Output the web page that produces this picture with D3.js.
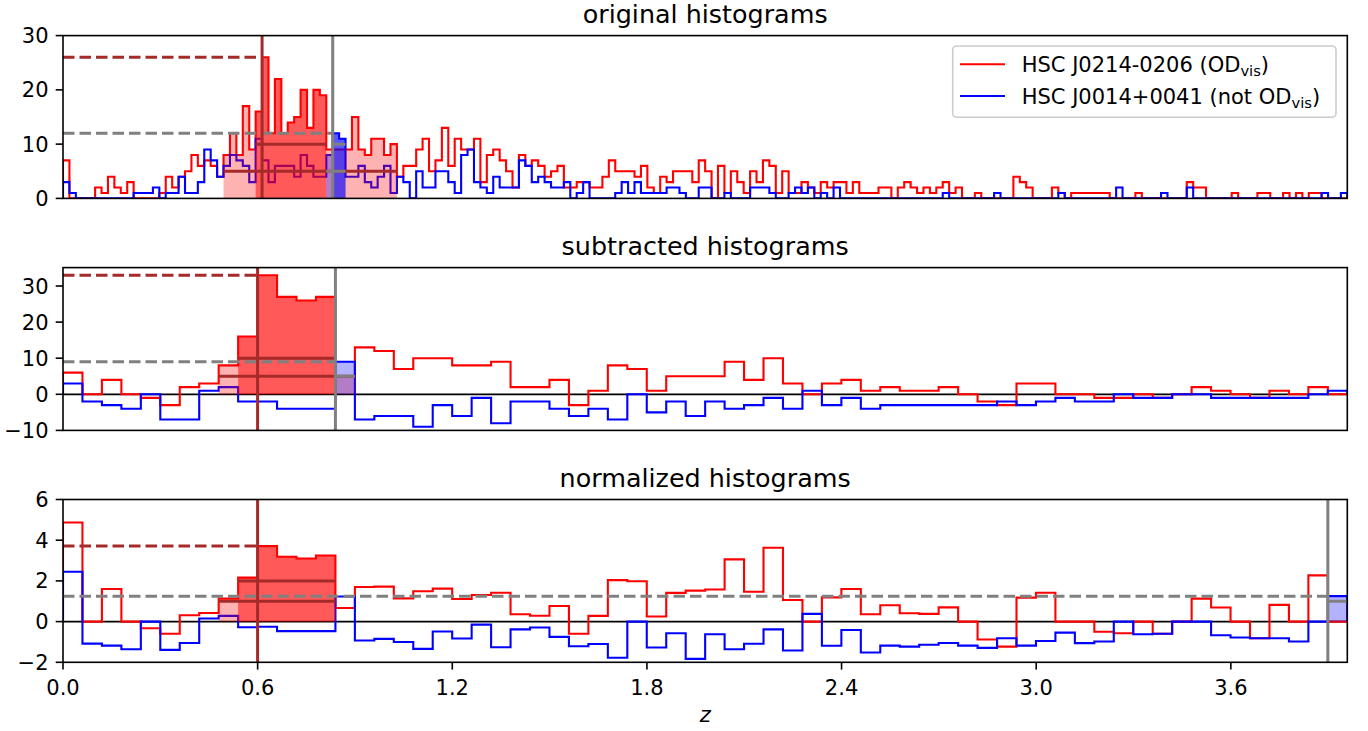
<!DOCTYPE html>
<html><head><meta charset="utf-8">
<script src="https://cdn.jsdelivr.net/npm/d3@7"></script>
<style>body{margin:0;background:#fff}</style>
</head><body>
<svg id="chart" width="1368" height="731"></svg>
<script>
// ---------- data ----------
const topRed = [7,0,0,0,0,2,1,4,2,1, 3,0,0,0,0,1,4,2,4,5, 8,6,7,6,4,8,12,8,17,9,
 16,26,12,22,12,14,15,20,13,20, 19,9,9,9,9,15,9,8,11,11, 8,10,4,6,6,9,11,5,7,13,
 6,11,9,9,11,3,8,9,7,5, 2,8,6,7,6,4,5,6,2,2, 3,3,2,2,4,7,5,5,5,4,
 6,2,1,4,3,5,5,5,3,7, 5,0,6,1,5,3,1,5,3,7, 6,1,5,1,1,3,2,1,3,2,
 3,3,1,3,1,1,1,2,2,0, 2,3,2,1,2,1,2,3,1,2, 0,0,1,0,0,0,0,0,4,3,
 2,0,0,0,2,1,0,1,1,1, 1,1,1,0,0,0,0,1,0,0, 0,0,0,0,0,3,2,2,0,0,
 0,0,1,0,0,0,1,1,0,0, 1,0,1,0,1,1,0,0,0,0];
const topBlue = [3,1,0,0,0,0,0,0,0,0, 0,1,1,1,2,0,1,1,4,1, 1,3,9,7,4,6,8,7,6,3,
 11,7,3,6,6,6,4,8,6,4, 4,8,12,11,4,4,6,3,2,4, 6,1,4,3,0,5,2,2,5,5,
 3,1,8,9,3,2,1,4,2,2, 2,7,6,3,4,3,2,2,3,0, 1,3,0,0,0,0,1,3,1,3,
 1,1,1,1,2,2,1,0,0,2, 2,0,0,1,0,0,0,2,2,2, 1,0,0,1,2,1,2,0,1,0,
 2,0,0,0,0,0,0,0,0,0, 0,0,0,0,0,0,0,1,0,0, 0,0,0,0,0,1,0,0,0,0,
 0,0,0,0,0,1,0,0,0,0, 0,0,0,0,2,0,0,0,0,0, 0,1,0,0,0,2,0,0,0,0,
 0,0,0,0,0,0,0,0,0,0, 0,0,0,0,0,0,1,0,0,1];
const subRed = [6,0,4,0,-1,-3,2,3,8,16, 33,27,26,27,5,13,12,7,10,10,
 8,8,9,2,2,4,-3,1,8,7, 1,5,5,5,9,4,10,3,0,3, 4,1,2,1,1,2,0,-2,-3,3,
 3,0,0,-1,-1,0,-1,0,2,1, 0,-1,1,0,2,0];
const subBlue = [3,-2,-3,-4,0,-7,-7,1,2,-2, -2,-4,-4,-4,9,-7,-6,-6,-9,-3,
 -6,-1,-8,-2,-2,-4,-6,-4,-7,0, -5,-2,-6,-2,-4,-3,-1,-4,1,-3, -1,-4,-3,-3,-3,-3,-3,-3,-2,-3,
 -2,-1,-2,-2,0,-1,-1,0,0,-1, -1,-1,-1,-1,0,1];
const normRed = [4.87,0,1.6,0,-0.33,-0.6,0.31,0.42,1.13,2.16,
 3.71,3.19,3.10,3.25,0.67,1.70,1.72,1.14,1.49,1.62,
 1.11,1.31,1.42,0.36,0.29,0.77,-0.6,0.28,2.04,1.98,
 0.25,1.41,1.52,1.58,3.06,1.47,3.63,1.06,0,1.19,
 1.6,0.36,0.8,0.41,0.38,0.7,0,-0.88,-1.23,1.18,
 1.42,0,0,-0.5,-0.57,0,-0.6,0,1.13,0.69,
 0,-0.82,0.82,0,2.27,0];
const normBlue = [2.45,-1.08,-1.18,-1.36,0,-1.39,-1.05,0.15,0.28,-0.28,
 -0.25,-0.47,-0.47,-0.47,1.23,-0.93,-0.85,-1.0,-1.34,-0.49,
 -0.83,-0.15,-1.26,-0.38,-0.29,-0.75,-1.21,-1.1,-1.78,0,
 -1.27,-0.57,-1.83,-0.62,-1.36,-1.09,-0.38,-1.42,0.38,-1.19,
 -0.41,-1.52,-1.18,-1.23,-1.14,-1.05,-1.18,-1.29,-0.82,-1.18,
 -0.95,-0.54,-1.06,-0.98,0,-0.62,-0.6,0,0,-0.67,
 -0.78,-0.82,-0.82,-0.98,0,1.25];
const zMax = 3.959;
const xTicks = [0, 0.6, 1.2, 1.8, 2.4, 3.0, 3.6];
const xTickLabels = ["0.0","0.6","1.2","1.8","2.4","3.0","3.6"];
const yTicksTop = [0,10,20,30];
const yTicksSub = [-10,0,10,20,30];
const yTicksNorm = [-2,0,2,4,6];
const panelTitles = ["original histograms","subtracted histograms","normalized histograms"];
const legendNames = [["HSC J0214-0206 (OD","vis",")"],["HSC J0014+0041 (not OD","vis",")"]];

// ---------- layout / styles ----------
const FONT = "DejaVu Sans";
const RED = "#ff0000", BLUE = "#0000ff", BROWN = "#a52a2a", GRAY = "#808080";
const svg = d3.select("#chart");
const x = d3.scaleLinear().domain([0, zMax]).range([63, 1347.3]);
const panelH = 162.8;

const panels = [
  {top:35.6, title:panelTitles[0], red:topRed, blue:topBlue, ylim:[0,30], ticks:yTicksTop, zero:false,
   redPeak:31, bluePeak:42, redLight:[25,51], redDark:[30,40], blueLight:[41,43], blueDark:[42,43],
   redLevels:[[10,30,40],[5,25,51]], blueLevels:[[10,42,43],[5,41,43]]},
  {top:267.6, title:panelTitles[1], red:subRed, blue:subBlue, ylim:[-10,35.1], ticks:yTicksSub, zero:true,
   redPeak:10, bluePeak:14, redLight:[8,14], redDark:[9,13], blueLight:[14,14], blueDark:null,
   redLevels:[[10,9,13],[5,8,14]], blueLevels:[[5,14,14]]},
  {top:499.5, title:panelTitles[2], red:normRed, blue:normBlue, ylim:[-2,6], ticks:yTicksNorm, zero:true,
   redPeak:10, bluePeak:65, redLight:[8,13], redDark:[9,13], blueLight:[65,65], blueDark:null,
   redLevels:[[2,9,13],[1,8,13]], blueLevels:[[1,65,65]]}
];

const fmt = v => (v < 0 ? "\u2212" + Math.abs(v) : String(v));

panels.forEach((p, i) => {
  const n = p.red.length, w = zMax / n;
  const y = d3.scaleLinear().domain(p.ylim).range([p.top + panelH, p.top]);
  const g = svg.append("g");
  const cid = "clip" + i;
  svg.append("clipPath").attr("id", cid).append("rect")
    .attr("x", x(0)).attr("y", p.top).attr("width", x(zMax) - x(0)).attr("height", panelH);
  const pg = g.append("g").attr("clip-path", `url(#${cid})`);

  const line = d3.line().x(d => x(d[0])).y(d => y(d[1])).curve(d3.curveStepAfter);
  const area = d3.area().x(d => x(d[0])).y0(y(0)).y1(d => y(d[1])).curve(d3.curveStepAfter);
  const stepPts = (vals, a, b) => {
    const pts = [];
    for (let k = a; k <= b; k++) pts.push([k * w, vals[k]]);
    pts.push([(b + 1) * w, vals[b]]);
    return pts;
  };

  if (p.zero) pg.append("line").attr("x1", x(0)).attr("x2", x(zMax)).attr("y1", y(0)).attr("y2", y(0))
      .attr("stroke", "#000").attr("stroke-width", 1.7);

  [[p.red, RED], [p.blue, BLUE]].forEach(([vals, col]) => {
    const pts = [[0, 0], ...stepPts(vals, 0, n - 1), [n * w, 0]];
    pg.append("path").attr("d", line(pts)).attr("fill", "none").attr("stroke", col)
      .attr("stroke-width", 2.1).attr("stroke-linejoin", "miter");
  });

  const fill = (vals, rng, col, op) => {
    if (!rng) return;
    pg.append("path").attr("d", area(stepPts(vals, rng[0], rng[1]))).attr("fill", col).attr("fill-opacity", op);
  };
  fill(p.red, p.redLight, RED, 0.3);
  fill(p.red, p.redDark, RED, 0.5);
  fill(p.blue, p.blueLight, BLUE, 0.3);
  fill(p.blue, p.blueDark, BLUE, 0.5);

  const hline = (lv, col) => pg.append("line").attr("x1", x(lv[1] * w)).attr("x2", x((lv[2] + 1) * w))
      .attr("y1", y(lv[0])).attr("y2", y(lv[0])).attr("stroke", col).attr("stroke-width", 3);
  p.redLevels.forEach(lv => hline(lv, BROWN));
  p.blueLevels.forEach(lv => hline(lv, GRAY));

  const dashed = (peak, vals, col) => pg.append("line").attr("x1", x(0)).attr("x2", x(peak * w))
      .attr("y1", y(vals[peak])).attr("y2", y(vals[peak])).attr("stroke", col)
      .attr("stroke-width", 3).attr("stroke-dasharray", "11.5,5");
  dashed(p.redPeak, p.red, BROWN);
  dashed(p.bluePeak, p.blue, GRAY);

  const vline = (peak, col) => pg.append("line").attr("x1", x(peak * w)).attr("x2", x(peak * w))
      .attr("y1", p.top).attr("y2", p.top + panelH).attr("stroke", col).attr("stroke-width", 3);
  vline(p.redPeak, BROWN);
  vline(p.bluePeak, GRAY);

  // frame
  g.append("rect").attr("x", x(0)).attr("y", p.top).attr("width", x(zMax) - x(0)).attr("height", panelH)
    .attr("fill", "none").attr("stroke", "#000").attr("stroke-width", 1.6);

  // y ticks
  p.ticks.forEach(t => {
    g.append("line").attr("x1", x(0) - 7.3).attr("x2", x(0)).attr("y1", y(t)).attr("y2", y(t))
      .attr("stroke", "#000").attr("stroke-width", 1.6);
    g.append("text").attr("x", x(0) - 14.5).attr("y", y(t)).attr("dy", "0.36em")
      .attr("text-anchor", "end").attr("font-family", FONT).attr("font-size", 21).text(fmt(t));
  });

  // title
  g.append("text").attr("x", (x(0) + x(zMax)) / 2).attr("y", p.top - 12.8).attr("text-anchor", "middle")
    .attr("font-family", FONT).attr("font-size", 25.4).text(p.title);

  if (i === 2) {
    xTicks.forEach((t, j) => {
      g.append("line").attr("x1", x(t)).attr("x2", x(t)).attr("y1", p.top + panelH).attr("y2", p.top + panelH + 7.3)
        .attr("stroke", "#000").attr("stroke-width", 1.6);
      g.append("text").attr("x", x(t)).attr("y", 695).attr("text-anchor", "middle")
        .attr("font-family", FONT).attr("font-size", 21).text(xTickLabels[j]);
    });
    g.append("text").attr("x", (x(0) + x(zMax)) / 2).attr("y", 721.5).attr("text-anchor", "middle")
      .attr("font-family", FONT).attr("font-style", "italic").attr("font-size", 21).text("z");
  }

  if (i === 0) {
    const lg = g.append("g");
    lg.append("rect").attr("x", 952.7).attr("y", 46).attr("width", 383.3).attr("height", 71.3).attr("rx", 4)
      .attr("fill", "#fff").attr("fill-opacity", 0.8).attr("stroke", "#cccccc").attr("stroke-width", 1.6);
    [[RED, 64.3, 71.8], [BLUE, 96, 103.5]].forEach(([col, ly, ty], j) => {
      lg.append("line").attr("x1", 960).attr("x2", 1005).attr("y1", ly).attr("y2", ly)
        .attr("stroke", col).attr("stroke-width", 2.1);
      const t = lg.append("text").attr("x", 1021.7).attr("y", ty).attr("font-family", FONT).attr("font-size", 21);
      t.append("tspan").text(legendNames[j][0]);
      t.append("tspan").attr("font-size", 14.7).attr("dy", 4.5).text(legendNames[j][1]);
      t.append("tspan").attr("dy", -4.5).text(legendNames[j][2]);
    });
  }
});
</script>
</body></html>
